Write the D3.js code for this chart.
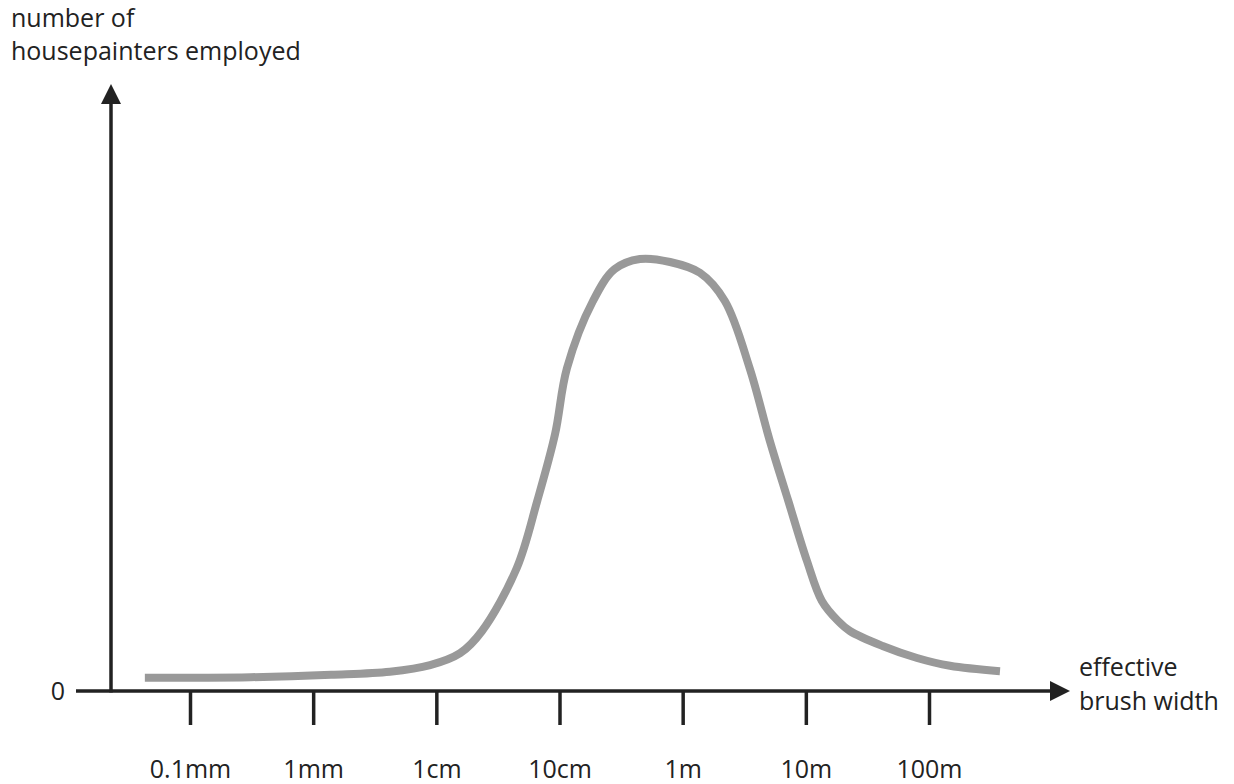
<!DOCTYPE html>
<html lang="en">
<head>
  <meta charset="UTF-8" />
  <title>Housepainters by brush width</title>
  <script src="https://cdn.jsdelivr.net/npm/d3@7/dist/d3.min.js"></script>
  <style>
    html, body { margin: 0; padding: 0; background: #fff; }
    svg { display: block; font-family: "Open Sans", "Noto Sans", sans-serif; }
  </style>
</head>
<body>
  <div id="chart"></div>
  <script>
    // brush width in metres
    const brushWidth = [4.3e-5, 3.1e-4, 1.4e-3, 4.2e-3, 8.9e-3, 0.0156, 0.0235, 0.045,
      0.066, 0.092, 0.115, 0.187, 0.28, 0.45, 0.79, 1.38, 2.2, 3.5, 5.1, 7.2,
      10.2, 13.5, 18.2, 22.8, 42, 80, 148, 377];
    // number of housepainters employed (arbitrary units, 0 = axis)
    const painters = [2.2, 2.3, 2.7, 3.2, 4.3, 6.3, 10, 20.5, 31.7, 42.8, 53.8, 65, 70.3,
      72, 71.5, 69.7, 65, 53.8, 41.7, 31.7, 21.7, 15, 11.7, 10, 7.5, 5.5, 4.2, 3.3];

    const tickValues = [1e-4, 1e-3, 1e-2, 1e-1, 1, 10, 100];
    const tickLabels = ["0.1mm", "1mm", "1cm", "10cm", "1m", "10m", "100m"];

    const width = 1234, height = 784;
    const ink = "#222";
    const fontSize = 25;

    const svg = d3.select("#chart").append("svg")
      .attr("width", width)
      .attr("height", height);

    const x = d3.scaleLog().domain([1e-4, 100]).range([190, 929]);
    const y = d3.scaleLinear().domain([0, 100]).range([691, 91]);

    const defs = svg.append("defs");
    defs.append("marker")
      .attr("id", "arrow")
      .attr("viewBox", "0 0 10 10")
      .attr("refX", 0).attr("refY", 5)
      .attr("markerUnits", "userSpaceOnUse")
      .attr("markerWidth", 26).attr("markerHeight", 20)
      .attr("orient", "auto")
      .append("path")
      .attr("d", "M0,0L10,5L0,10Z")
      .attr("fill", ink);

    // x axis line with arrow
    svg.append("line")
      .attr("x1", 76).attr("x2", 1050)
      .attr("y1", y(0)).attr("y2", y(0))
      .attr("stroke", ink).attr("stroke-width", 3.5)
      .attr("marker-end", "url(#arrow)");

    // y axis line with arrow
    svg.append("line")
      .attr("x1", 111).attr("x2", 111)
      .attr("y1", y(0) + 1.5).attr("y2", 104)
      .attr("stroke", ink).attr("stroke-width", 3.5)
      .attr("marker-end", "url(#arrow)");

    // ticks + labels
    const xAxis = d3.axisBottom(x)
      .tickValues(tickValues)
      .tickFormat((d, i) => tickLabels[i])
      .tickSizeInner(34)
      .tickSizeOuter(0)
      .tickPadding(35);

    const gx = svg.append("g")
      .attr("transform", `translate(0,${y(0)})`)
      .call(xAxis);
    gx.select(".domain").remove();
    gx.selectAll(".tick line").attr("stroke", ink).attr("stroke-width", 3.5);
    gx.selectAll(".tick text")
      .attr("fill", ink)
      .attr("font-size", fontSize)
      .attr("font-family", "\"Open Sans\", \"Noto Sans\", sans-serif");

    // zero label
    svg.append("text")
      .attr("x", 58).attr("y", y(0))
      .attr("dy", "0.35em")
      .attr("text-anchor", "middle")
      .attr("font-size", fontSize)
      .attr("fill", ink)
      .text("0");

    // curve
    const pts = brushWidth.map((w, i) => [w, painters[i]]);
    svg.append("path")
      .datum(pts)
      .attr("fill", "none")
      .attr("stroke", "#999")
      .attr("stroke-width", 8)
      .attr("d", d3.line()
        .x(d => x(d[0]))
        .y(d => y(d[1]))
        .curve(d3.curveCatmullRom.alpha(0.5)));

    // axis titles
    const yTitle = svg.append("text")
      .attr("font-size", fontSize).attr("fill", ink);
    yTitle.append("tspan").attr("x", 11).attr("y", 27).text("number of");
    yTitle.append("tspan").attr("x", 11).attr("y", 60).text("housepainters employed");

    const xTitle = svg.append("text")
      .attr("font-size", fontSize).attr("fill", ink);
    xTitle.append("tspan").attr("x", 1079).attr("y", 676).text("effective");
    xTitle.append("tspan").attr("x", 1079).attr("y", 710).text("brush width");
  </script>
</body>
</html>
